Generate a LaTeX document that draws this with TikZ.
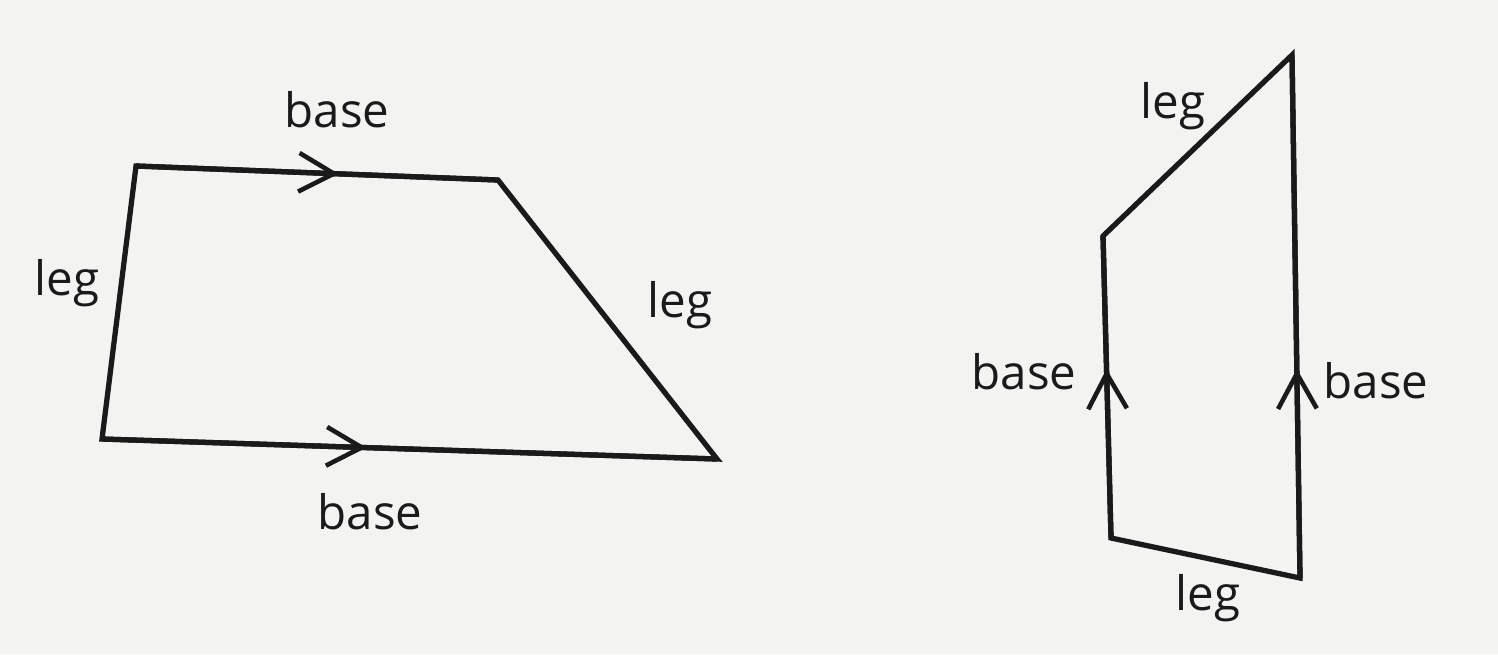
\documentclass[tikz,border=0pt]{standalone}
\usepackage{fontspec}
\setmainfont{Open Sans}
\usetikzlibrary{arrows.meta,decorations.markings}
\definecolor{paper}{HTML}{F3F3F2}
\definecolor{ink}{HTML}{1A1A1A}
\tikzset{
  shape line/.style={draw=ink, line width=1.5pt, line join=miter},
  lbl/.style={font=\fontsize{13.5}{16}\selectfont, text=ink, inner sep=0pt},
  chevron/.style={draw=ink, line width=1.5pt, postaction={decorate},
    decoration={markings, mark=at position #1 with {\arrow[ink,line width=1.3pt]{Straight Barb[length=10pt,width=11pt]}}}}
}
\begin{document}
\begin{tikzpicture}[x=0.01cm,y=-0.01cm]
\fill[paper] (0,0) rectangle (1498,654);
\useasboundingbox (0,0) rectangle (1498,654);
% left trapezoid
\coordinate (A1) at (136,166);
\coordinate (A2) at (498,180);
\coordinate (A3) at (717,459);
\coordinate (A4) at (102,439);
\draw[shape line] (A1) -- (A2) -- (A3) -- (A4) -- cycle;
\draw[chevron=0.56] (A1) -- (A2);
\draw[chevron=0.43] (A4) -- (A3);
\node[lbl] (tb) at (337,110) {base};
\node[lbl] (bb) at (370,512) {base};
\node[lbl] (ll) at (67,283) {leg};
\node[lbl] (rl) at (680,305) {leg};
% right trapezoid
\coordinate (B1) at (1103,236);
\coordinate (B2) at (1292,55);
\coordinate (B3) at (1300,578);
\coordinate (B4) at (1111,538);
\draw[shape line] (B1) -- (B2) -- (B3) -- (B4) -- cycle;
\draw[chevron=0.56] (B4) -- (B1);
\draw[chevron=0.40] (B3) -- (B2);
\node[lbl] (tl) at (1173,106) {leg};
\node[lbl] (mb) at (1024,372) {base};
\node[lbl] (rb) at (1376,381) {base};
\node[lbl] (bl) at (1208,598) {leg};
\end{tikzpicture}
\end{document}
